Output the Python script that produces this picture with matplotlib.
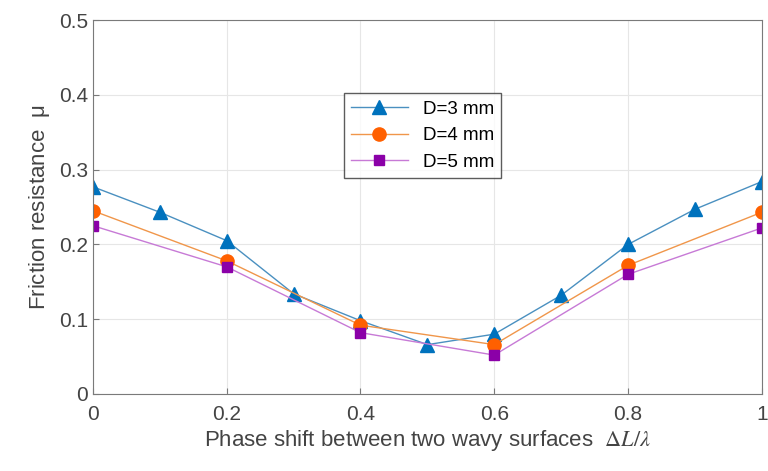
import matplotlib
matplotlib.use('Agg')
import matplotlib.pyplot as plt

plt.rcParams['font.family'] = ['Liberation Sans', 'DejaVu Sans']
plt.rcParams['mathtext.fontset'] = 'stix'

# phase shift values and friction coefficient per groove depth
x_full = [0, 0.1, 0.2, 0.3, 0.4, 0.5, 0.6, 0.7, 0.8, 0.9, 1.0]
mu_d3 = [0.277, 0.243, 0.205, 0.134, 0.098, 0.066, 0.080, 0.132, 0.200, 0.247, 0.284]

x_part = [0, 0.2, 0.4, 0.6, 0.8, 1.0]
mu_d4 = [0.245, 0.178, 0.092, 0.066, 0.172, 0.243]
mu_d5 = [0.225, 0.170, 0.082, 0.052, 0.160, 0.222]

fig = plt.figure(figsize=(7.68, 4.71), dpi=100)
ax = fig.add_axes([0.121, 0.1635, 0.871, 0.794])

ax.plot(x_full, mu_d3, '-^', color='#4a90c0', lw=1, mfc='#0072BD', mec='#0072BD', ms=10.5, label='D=3 mm')
ax.plot(x_part, mu_d4, '-o', color='#f0964a', lw=1, mfc='#FF6000', mec='#FF6000', ms=9.5, label='D=4 mm')
ax.plot(x_part, mu_d5, '-s', color='#c77ad6', lw=1, mfc='#8B00A8', mec='#8B00A8', ms=7.5, label='D=5 mm')

ax.set_xlim(0, 1)
ax.set_ylim(0, 0.5)
ax.set_xticks([0, 0.2, 0.4, 0.6, 0.8, 1])
ax.set_xticklabels(['0', '0.2', '0.4', '0.6', '0.8', '1'])
ax.set_yticks([0, 0.1, 0.2, 0.3, 0.4, 0.5])
ax.set_yticklabels(['0', '0.1', '0.2', '0.3', '0.4', '0.5'])
ax.grid(True, color='#e6e6e6', lw=0.8)
ax.set_axisbelow(True)
for s in ax.spines.values():
    s.set_color('#7a7a7a')
ax.tick_params(direction='in', colors='#7a7a7a', labelcolor='#444444', labelsize=15, length=4)
ax.tick_params(axis='x', pad=8)

ax.set_xlabel(r'Phase shift between two wavy surfaces  $\Delta L/\lambda$', fontsize=16, color='#444444', labelpad=3)
ax.set_ylabel(r'Friction resistance  $\mathregular{\mu}$', fontsize=16, color='#444444', labelpad=5)

leg = ax.legend(loc='upper left', bbox_to_anchor=(0.375, 0.805), fontsize=13.5, frameon=True, fancybox=False,
                edgecolor='#333333', handlelength=3, borderpad=0.4, labelspacing=0.5, borderaxespad=0)
leg.get_frame().set_linewidth(1)

fig.savefig('out.png', dpi=100)
